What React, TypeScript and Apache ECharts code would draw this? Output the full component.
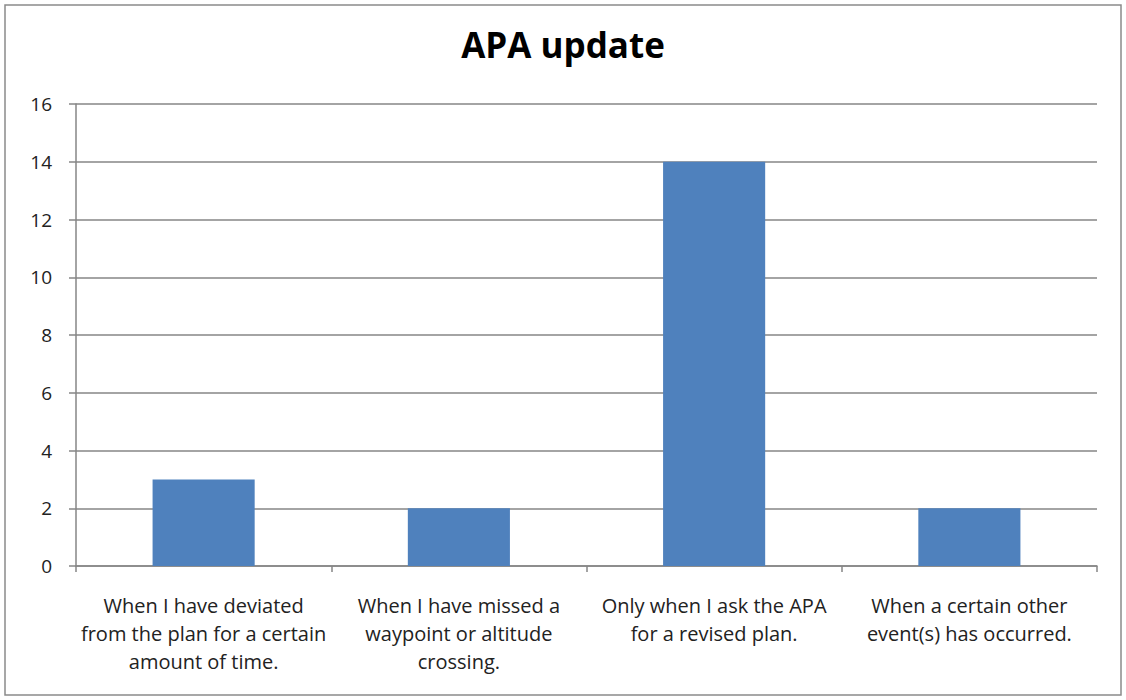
import React, { useEffect, useRef } from "react";
import * as echarts from "echarts";

const categories = [
  "When I have deviated\nfrom the plan for a certain\namount of time.",
  "When I have missed a\nwaypoint or altitude\ncrossing.",
  "Only when I ask the APA\nfor a revised plan.",
  "When a certain other\nevent(s) has occurred.",
];
const values = [3, 2, 14, 2];
const titleText = "APA update";

export default function App() {
  const ref = useRef<HTMLDivElement>(null);
  useEffect(() => {
    if (!ref.current) return;
    const chart = echarts.init(ref.current, null, { renderer: "svg" });
    chart.setOption({
      animation: false,
      backgroundColor: "#ffffff",
      title: {
        text: titleText,
        left: "center",
        top: 22,
        textStyle: { fontFamily: "Open Sans", fontWeight: "bold", fontSize: 35, color: "#000" },
      },
      graphic: [
        {
          type: "rect",
          shape: { x: 5, y: 5, width: 1116, height: 690 },
          style: { fill: "none", stroke: "#8a8a8a", lineWidth: 1.5 },
          silent: true,
        },
      ],
      grid: { left: 76, right: 29, top: 104, bottom: 134 },
      xAxis: {
        type: "category",
        data: categories,
        axisLine: { lineStyle: { color: "#868686", width: 1.5 } },
        axisTick: { show: true, alignWithLabel: false, length: 6, lineStyle: { color: "#868686", width: 1.5 } },
        axisLabel: {
          interval: 0,
          margin: 25,
          fontFamily: "Open Sans",
          fontSize: 20,
          lineHeight: 28,
          color: "#222",
          align: "center",
        },
      },
      yAxis: {
        type: "value",
        min: 0,
        max: 16,
        interval: 2,
        axisLine: { show: true, lineStyle: { color: "#868686", width: 1.5 } },
        axisTick: { show: true, length: 7, lineStyle: { color: "#868686", width: 1.5 } },
        axisLabel: { fontFamily: "Open Sans", fontSize: 19, color: "#222", margin: 24 },
        splitLine: { show: true, lineStyle: { color: "#868686", width: 1.5 } },
      },
      series: [
        {
          type: "bar",
          data: values,
          barWidth: "40%",
          itemStyle: { color: "#4F81BD" },
        },
      ],
    });
    return () => chart.dispose();
  }, []);
  return (
    <div
      ref={ref}
      style={{ position: "fixed", left: 0, top: 0, width: 1126, height: 700 }}
    />
  );
}
